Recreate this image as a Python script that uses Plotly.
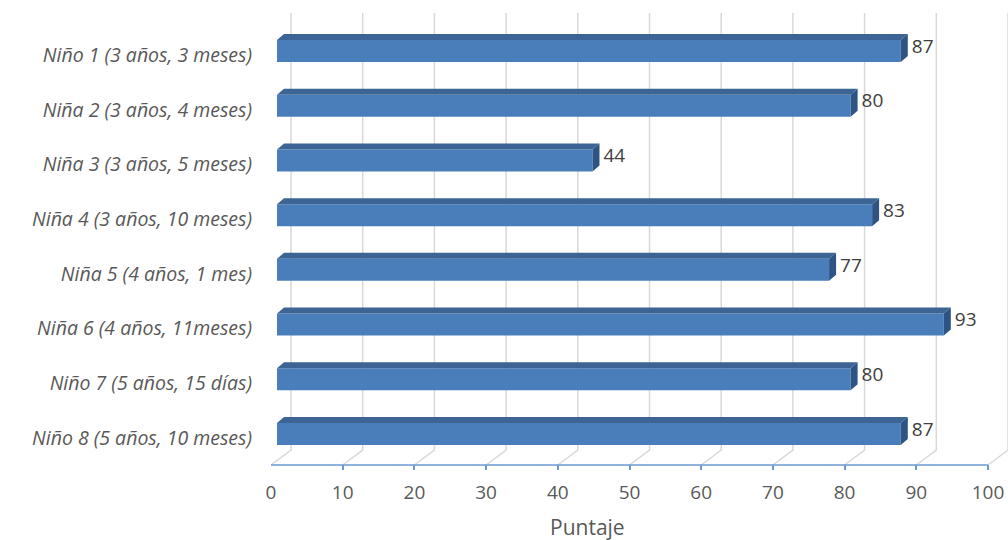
import plotly.graph_objects as go

# Scores per child
categorias = [
    "Niño 1 (3 años, 3 meses)",
    "Niña 2 (3 años, 4 meses)",
    "Niña 3 (3 años, 5 meses)",
    "Niña 4 (3 años, 10 meses)",
    "Niña 5 (4 años, 1 mes)",
    "Niña 6 (4 años, 11meses)",
    "Niño 7 (5 años, 15 días)",
    "Niño 8 (5 años, 10 meses)",
]
puntajes = [87, 80, 44, 83, 77, 93, 80, 87]
ticks_x = [0, 10, 20, 30, 40, 50, 60, 70, 80, 90, 100]

# Geometry of the pseudo-3D box (pixels converted to data units)
PX_X = 7.17          # pixels per score unit
PX_Y = 54.71         # pixels per category slot
X_MAX = (1008 - 271) / PX_X
Y_FLOOR = (465 - 51) / PX_Y
Y_BACK = (450 - 51) / PX_Y
Y_TOP = (13 - 51) / PX_Y
Y_BOTTOM = (470 - 51) / PX_Y
Y_START = -51 / PX_Y
WALL_DX = 20 / PX_X  # shift of back wall
BAR_DX = 6 / PX_X    # shift of bar front face
DEPTH_X = 7 / PX_X   # bar depth, horizontal
DEPTH_Y = 6 / PX_Y   # bar depth, vertical
HALF_H = 11 / PX_Y   # half height of a bar's front face
LABEL_GAP = 4 / PX_X

FRONT = "#4A7EBB"
TOP = "#3C6494"
SIDE = "#2E5485"
GRID = "#D9D9D9"
AXIS = "#6A9AD3"
TXT = "#595959"

fig = go.Figure()

# Back-wall gridlines with floor diagonals
gx, gy = [], []
for t in ticks_x:
    gx += [t, t + WALL_DX, t + WALL_DX, None]
    gy += [Y_FLOOR, Y_BACK, Y_TOP, None]
fig.add_trace(go.Scatter(x=gx, y=gy, mode="lines", line=dict(color=GRID, width=1.5),
                         hoverinfo="skip", showlegend=False))

# Front axis line
fig.add_trace(go.Scatter(x=[ticks_x[0], ticks_x[-1]], y=[Y_FLOOR, Y_FLOOR], mode="lines",
                         line=dict(color=AXIS, width=1.5), hoverinfo="skip", showlegend=False))

ypos = list(range(len(categorias)))

# Front faces of the bars
fig.add_trace(go.Bar(x=puntajes, y=ypos, orientation="h", xaxis="x2",
                     width=2 * HALF_H, marker=dict(color=FRONT, line=dict(width=0)),
                     showlegend=False, customdata=categorias,
                     hovertemplate="%{customdata}: %{x}<extra></extra>"))

# Top and right faces
for v, yc in zip(puntajes, ypos):
    top = yc - HALF_H
    bot = yc + HALF_H
    fig.add_trace(go.Scatter(
        x=[0, v, v + DEPTH_X, DEPTH_X, 0],
        y=[top, top, top - DEPTH_Y, top - DEPTH_Y, top],
        xaxis="x2", mode="lines", fill="toself", fillcolor=TOP,
        line=dict(width=0), hoverinfo="skip", showlegend=False))
    fig.add_trace(go.Scatter(
        x=[v, v, v + DEPTH_X, v + DEPTH_X, v],
        y=[top, bot, bot - DEPTH_Y, top - DEPTH_Y, top],
        xaxis="x2", mode="lines", fill="toself", fillcolor=SIDE,
        line=dict(width=0), hoverinfo="skip", showlegend=False))

# Value labels
fig.add_trace(go.Scatter(
    x=[v + DEPTH_X + LABEL_GAP for v in puntajes], y=[yc - DEPTH_Y / 2 for yc in ypos],
    xaxis="x2", mode="text", text=[str(v) for v in puntajes],
    textposition="middle right", textfont=dict(family="Open Sans", size=19, color="#404040"),
    hoverinfo="skip", showlegend=False, cliponaxis=False))

fig.update_layout(
    width=1008, height=540,
    margin=dict(l=271, r=0, t=0, b=70),
    paper_bgcolor="white", plot_bgcolor="white",
    xaxis=dict(range=[0, X_MAX], tickvals=ticks_x, ticktext=[str(t) for t in ticks_x],
               showgrid=False, zeroline=False, showline=False,
               ticks="inside", ticklen=5, tickwidth=1.5, tickcolor=AXIS,
               tickfont=dict(family="Open Sans", size=19, color=TXT), ticklabelstandoff=9),
    xaxis2=dict(range=[-BAR_DX, X_MAX - BAR_DX], overlaying="x", visible=False),
    yaxis=dict(range=[Y_BOTTOM, Y_START], tickvals=ypos, ticktext=categorias,
               showgrid=False, zeroline=False, showline=False, ticks="",
               tickfont=dict(family="Open Sans", size=19.5, color=TXT, style="italic"),
               ticklabelstandoff=18, ticklabelshift=-4),
    annotations=[dict(text="Puntaje", xref="paper", yref="paper",
                      x=(587 - 271) / (1008 - 271), y=-(527 - 470) / 470,
                      xanchor="center", yanchor="middle", showarrow=False,
                      font=dict(family="Open Sans", size=21, color=TXT))],
)

fig.write_html("out.html")
